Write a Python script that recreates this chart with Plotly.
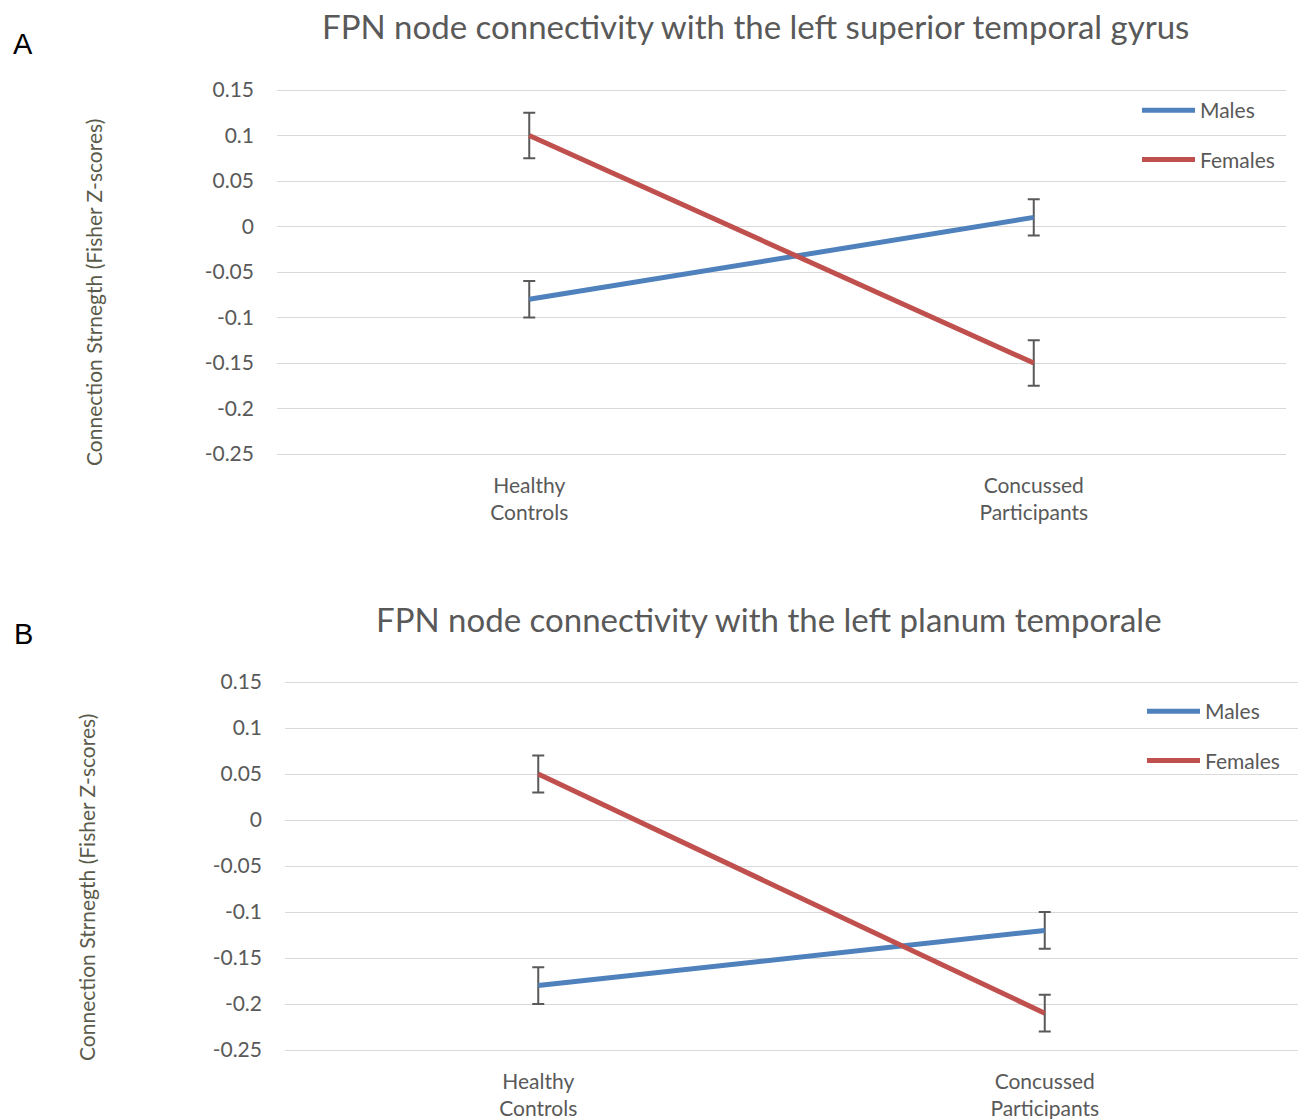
import plotly.graph_objects as go

categories = ["Healthy<br>Controls", "Concussed<br>Participants"]
yticks = [0.15, 0.1, 0.05, 0, -0.05, -0.1, -0.15, -0.2, -0.25]
yticktext = ["0.15", "0.1", "0.05", "0", "-0.05", "-0.1", "-0.15", "-0.2", "-0.25"]

# Panel A: left superior temporal gyrus
a_males = [-0.08, 0.01]
a_males_err = [0.02, 0.02]
a_females = [0.10, -0.15]
a_females_err = [0.025, 0.025]

# Panel B: left planum temporale
b_males = [-0.18, -0.12]
b_males_err = [0.02, 0.02]
b_females = [0.05, -0.21]
b_females_err = [0.02, 0.02]

title_a = "FPN node connectivity with the left superior temporal gyrus"
title_b = "FPN node connectivity with the left planum temporale"
ytitle = "Connection Strnegth (Fisher Z-scores)"

BLUE = "#4F81BD"
RED = "#C0504D"
GRAY = "#595959"
GRID = "#D9D9D9"
FONT = "Lato"

fig = go.Figure()

def add(y, err, name, color, xa, ya, legend, group):
    fig.add_trace(go.Scatter(
        x=categories, y=y, name=name, mode="lines",
        line=dict(color=color, width=5),
        error_y=dict(type="data", array=err, visible=True, color=GRAY, thickness=2, width=6),
        xaxis=xa, yaxis=ya, legend=legend, legendgroup=group,
    ))

add(a_males, a_males_err, "Males", BLUE, "x", "y", "legend", "am")
add(a_females, a_females_err, "Females", RED, "x", "y", "legend", "af")
add(b_males, b_males_err, "Males", BLUE, "x2", "y2", "legend2", "bm")
add(b_females, b_females_err, "Females", RED, "x2", "y2", "legend2", "bf")

W, H = 1300, 1119
def px(x): return x / W
def py(y): return 1 - y / H

yaxis_common = dict(
    range=[-0.255, 0.155], tickvals=yticks, ticktext=yticktext,
    showgrid=True, gridcolor=GRID, gridwidth=1, zeroline=False, showline=False,
    tickfont=dict(family=FONT, size=21, color=GRAY), ticks="", ticklabelstandoff=22,
    automargin=False,
)
xaxis_common = dict(
    range=[-0.5, 1.5], showgrid=False, zeroline=False, showline=False, ticks="",
    tickfont=dict(family=FONT, size=21, color=GRAY), ticklabelstandoff=12,
    automargin=False,
)

legend_common = dict(
    bgcolor="rgba(0,0,0,0)", font=dict(family=FONT, size=21, color=GRAY),
    tracegroupgap=19, itemwidth=53, xanchor="left", yanchor="top",
)

fig.update_layout(
    width=W, height=H, margin=dict(l=0, r=0, t=0, b=0, autoexpand=False),
    paper_bgcolor="white", plot_bgcolor="white",
    font=dict(family=FONT, color=GRAY),
    xaxis=dict(domain=[px(277), px(1286)], anchor="y", **xaxis_common),
    yaxis=dict(domain=[py(458.55), py(85.45)], anchor="x", **yaxis_common),
    xaxis2=dict(domain=[px(285), px(1298)], anchor="y2", **xaxis_common),
    yaxis2=dict(domain=[py(1054.6), py(677.4)], anchor="x2", **yaxis_common),
    legend=dict(x=px(1137), y=py(90), **legend_common),
    legend2=dict(x=px(1142), y=py(691), **legend_common),
    showlegend=True,
)

ann = [
    dict(text=title_a, x=px(755), y=py(26), font=dict(family=FONT, size=33, color=GRAY)),
    dict(text=title_b, x=px(769), y=py(619), font=dict(family=FONT, size=33, color=GRAY)),
    dict(text=ytitle, x=px(93), y=py(293), textangle=-90, font=dict(family=FONT, size=21, color="#5A5A4A")),
    dict(text=ytitle, x=px(86), y=py(888), textangle=-90, font=dict(family=FONT, size=21, color="#5A5A4A")),
    dict(text="A", x=px(23), y=py(44), font=dict(family="Liberation Sans", size=29, color="black")),
    dict(text="B", x=px(23), y=py(634), font=dict(family="Liberation Sans", size=29, color="black")),
]
for a in ann:
    fig.add_annotation(xref="paper", yref="paper", xanchor="center", yanchor="middle",
                       showarrow=False, **a)

fig.write_html("out.html", config={"displayModeBar": False},
               post_script="document.body.style.margin='0';")
